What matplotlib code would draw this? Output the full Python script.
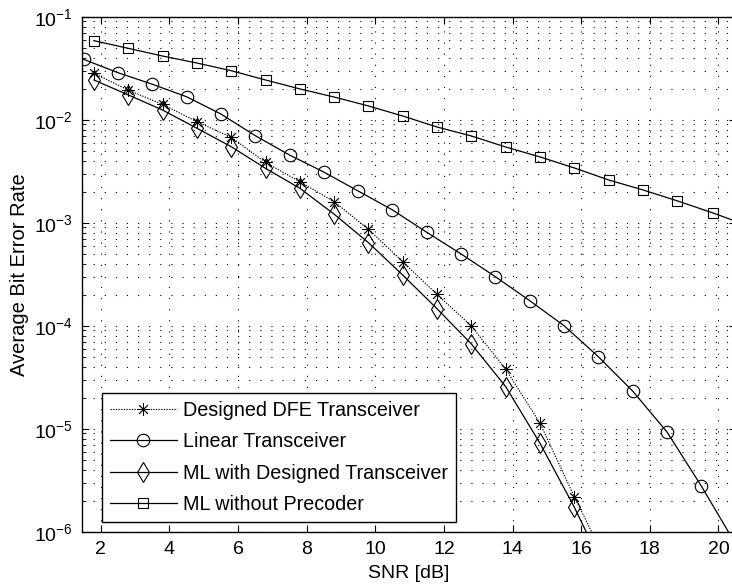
import matplotlib
matplotlib.use("Agg")
import matplotlib.pyplot as plt
from matplotlib.ticker import LogLocator, FixedLocator, NullFormatter, LogFormatterMathtext

plt.rcParams['font.family'] = ['Liberation Sans', 'DejaVu Sans']
plt.rcParams['mathtext.default'] = 'regular'

# ---- data ----
snr_linear = [1.5, 2.5, 3.5, 4.5, 5.5, 6.5, 7.5, 8.5, 9.5, 10.5, 11.5, 12.5,
              13.5, 14.5, 15.5, 16.5, 17.5, 18.5, 19.5, 20.5]
ber_linear = [0.0385, 0.0286, 0.0221, 0.0167, 0.01135, 7.0e-3, 4.54e-3, 3.10e-3,
              2.03e-3, 1.33e-3, 8.07e-4, 4.97e-4, 2.99e-4, 1.75e-4, 1.0e-4,
              5.0e-5, 2.32e-5, 9.3e-6, 2.78e-6, 7.6e-7]

snr_noprec = [1.8, 2.8, 3.8, 4.8, 5.8, 6.8, 7.8, 8.8, 9.8, 10.8, 11.8, 12.8,
              13.8, 14.8, 15.8, 16.8, 17.8, 18.8, 19.85, 20.8]
ber_noprec = [0.0585, 0.0493, 0.0415, 0.0355, 0.0299, 0.0243, 0.0199, 0.0166,
              0.0136, 0.01086, 8.49e-3, 6.95e-3, 5.43e-3, 4.35e-3, 3.40e-3,
              2.60e-3, 2.08e-3, 1.63e-3, 1.24e-3, 9.5e-4]

snr_dfe = [1.8, 2.8, 3.8, 4.8, 5.8, 6.8, 7.8, 8.8, 9.8, 10.8, 11.8, 12.8,
           13.8, 14.8, 15.8, 16.8]
ber_dfe = [0.0282, 0.0194, 0.01406, 9.57e-3, 6.75e-3, 3.85e-3, 2.50e-3, 1.60e-3,
           8.63e-4, 4.18e-4, 2.01e-4, 9.93e-5, 3.78e-5, 1.13e-5, 2.19e-6, 4.6e-7]

snr_ml = [1.8, 2.8, 3.8, 4.8, 5.8, 6.8, 7.8, 8.8, 9.8, 10.8, 11.8, 12.8,
          13.8, 14.8, 15.8, 16.8]
ber_ml = [0.0243, 0.0174, 0.0124, 8.26e-3, 5.47e-3, 3.37e-3, 2.16e-3, 1.21e-3,
          6.40e-4, 3.10e-4, 1.46e-4, 6.64e-5, 2.56e-5, 7.21e-6, 1.73e-6, 3.5e-7]

labels = ['Designed DFE Transceiver', 'Linear Transceiver',
          'ML with Designed Transceiver', 'ML without Precoder']
x_ticks = [2, 4, 6, 8, 10, 12, 14, 16, 18, 20]

# ---- figure ----
W, H = 732, 588
fig = plt.figure(figsize=(W / 100, H / 100), dpi=100)
ax_l, ax_r, ax_t, ax_b = 82.3, 735.6, 16.7, 531.7
ax = fig.add_axes([ax_l / W, 1 - ax_b / H, (ax_r - ax_l) / W, (ax_b - ax_t) / H])

lw = 0.9
ax.plot(snr_dfe, ber_dfe, color='black', linestyle=(0, (1.2, 1.2)), linewidth=0.8,
        marker=(8, 2, 0), markersize=9, markeredgewidth=0.6, label=labels[0])
ax.plot(snr_linear, ber_linear, color='black', linestyle='-', linewidth=lw,
        marker='o', markersize=9, markerfacecolor='none', markeredgewidth=0.8,
        label=labels[1])
ax.plot(snr_ml, ber_ml, color='black', linestyle='-', linewidth=lw,
        marker='d', markersize=10, markerfacecolor='none', markeredgewidth=0.8,
        label=labels[2])
ax.plot(snr_noprec, ber_noprec, color='black', linestyle='-', linewidth=lw,
        marker='s', markersize=7.5, markerfacecolor='none', markeredgewidth=0.8,
        label=labels[3])

ax.set_yscale('log')
ax.set_ylim(1e-6, 1e-1)
ax.set_xlim(1.46, 20.5)
ax.xaxis.set_major_locator(FixedLocator(x_ticks))
ax.set_xticklabels([str(t) for t in x_ticks])
ax.yaxis.set_major_locator(LogLocator(base=10, numticks=10))
ax.yaxis.set_minor_locator(LogLocator(base=10, subs=[2, 3, 4, 5, 6, 7, 8, 9], numticks=20))
ax.yaxis.set_minor_formatter(NullFormatter())
ax.yaxis.set_major_formatter(LogFormatterMathtext())

ax.tick_params(axis='both', which='major', direction='in', length=5, width=0.8,
               top=True, right=True, labelsize=14, pad=7)
ax.tick_params(axis='y', which='minor', direction='in', length=3, width=0.6,
               left=True, right=True)

grid_style = dict(color='black', linestyle=(0, (1, 9)), linewidth=0.8)
ax.grid(True, which='major', axis='both', **grid_style)
ax.grid(True, which='minor', axis='y', **grid_style)
ax.set_axisbelow(True)

for s in ax.spines.values():
    s.set_linewidth(1.0)

ax.set_xlabel('SNR [dB]', fontsize=14, labelpad=5)
ax.set_ylabel('Average Bit Error Rate', fontsize=14.5, labelpad=3)

leg = ax.legend(loc='lower left', bbox_to_anchor=(0.030, 0.0194), borderaxespad=0,
                fontsize=14.2, frameon=True, fancybox=False, edgecolor='black',
                framealpha=1, handlelength=3.4, handletextpad=0.33,
                labelspacing=0.62, borderpad=0.4)
leg.get_frame().set_linewidth(1.0)

fig.savefig('out.png', dpi=100)
